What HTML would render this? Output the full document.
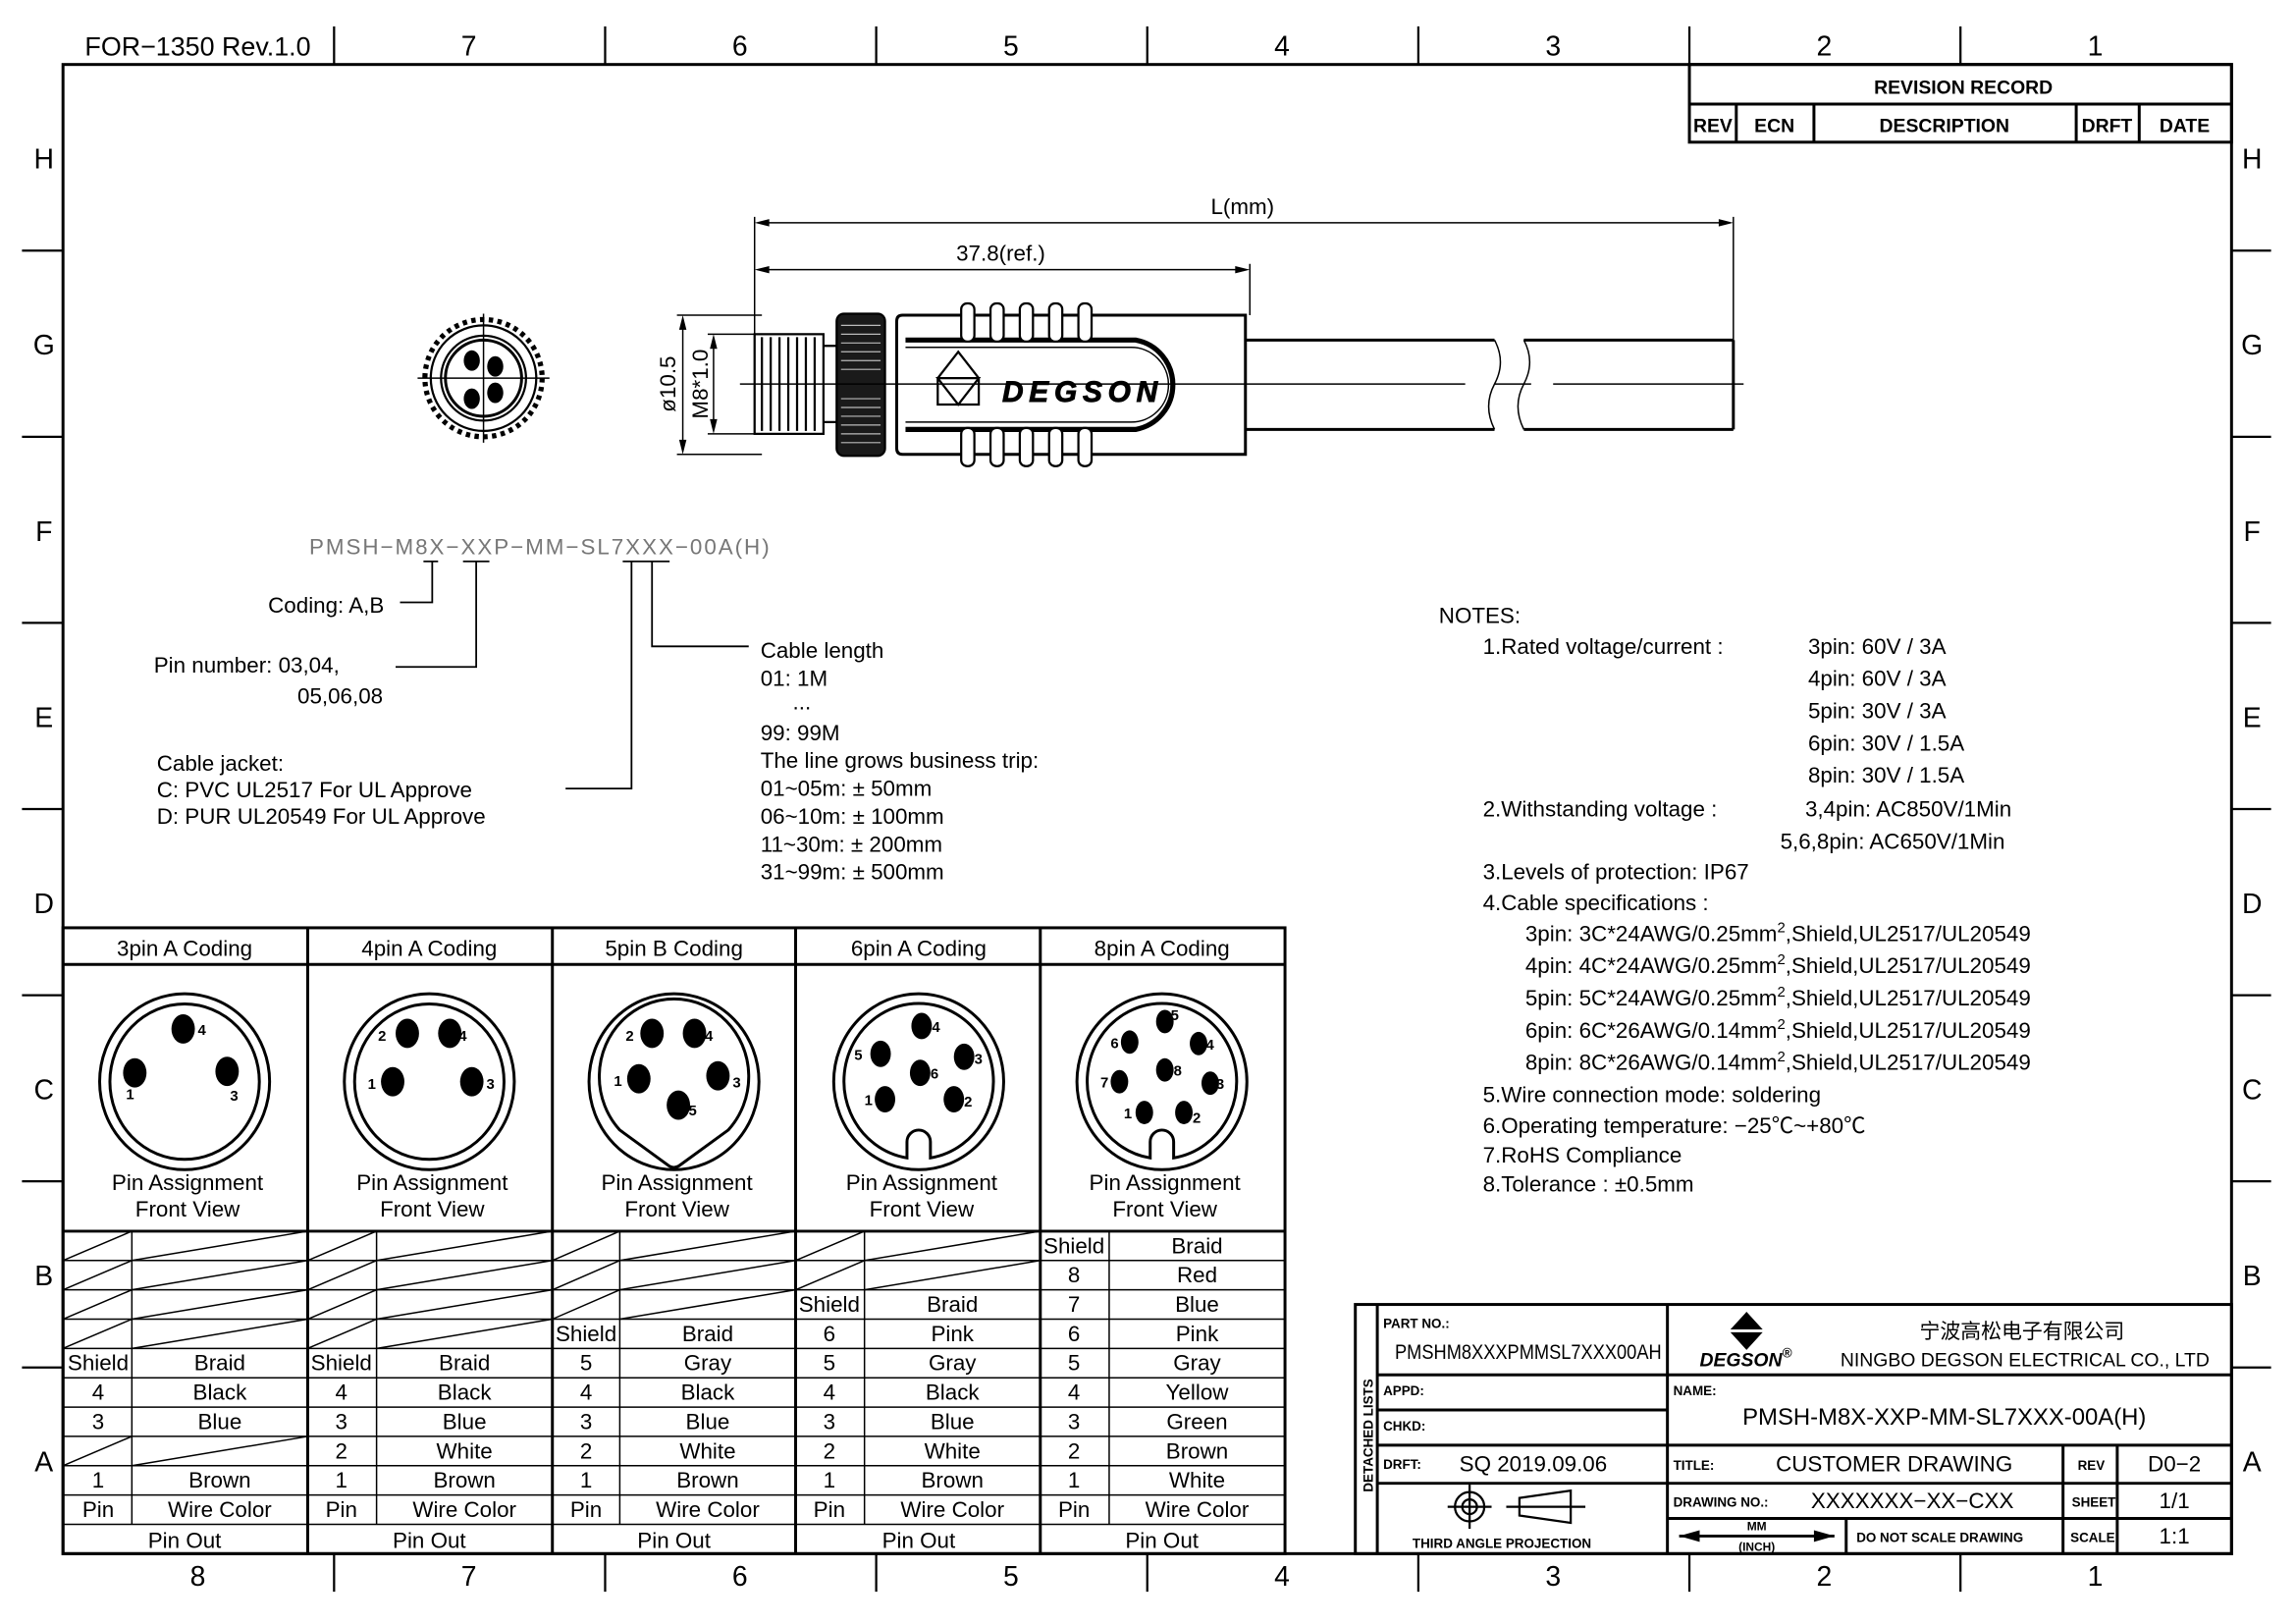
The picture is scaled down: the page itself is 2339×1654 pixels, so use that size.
<!DOCTYPE html>
<html><head><meta charset="utf-8"><style>
html,body{margin:0;padding:0;background:#fff}
svg{display:block}
text{font-family:"Liberation Sans","Noto Sans CJK SC",sans-serif;fill:#000}
.b{font-weight:bold}
</style></head><body>
<svg width="2339" height="1654" viewBox="0 0 1567 1108" preserveAspectRatio="none" xmlns="http://www.w3.org/2000/svg">
<rect width="1567" height="1108" fill="#fff"/>
<g stroke="#000" fill="none">
<rect x="43" y="44" width="1480" height="1016" stroke-width="2"/>
<g stroke-width="1.5">
<path d="M228 18V44M413 18V44M598 18V44M783 18V44M968 18V44M1153 18V44M1338 18V44"/>
<path d="M228 1060V1086M413 1060V1086M598 1060V1086M783 1060V1086M968 1060V1086M1153 1060V1086M1338 1060V1086"/>
<path d="M15 171H43M15 298H43M15 425H43M15 552H43M15 679H43M15 806H43M15 933H43"/>
<path d="M1523 171H1550M1523 298H1550M1523 425H1550M1523 552H1550M1523 679H1550M1523 806H1550M1523 933H1550"/>
</g>
<g stroke-width="2">
<rect x="1153" y="44" width="370" height="53"/>
<path d="M1153 71H1523M1185 71V97M1238 71V97M1417 71V97M1460 71V97"/>
</g>
<g stroke-width="1">
<path d="M515 148V255M1183 148V235M853 180V215"/>
<path d="M518 152H1180M518 184H850"/>
<path d="M462 215H520M462 310H520M483 228H515M483 296H515"/>
<path d="M466 218V307M487 231V293"/>
</g>
<g fill="#000" stroke="none">
<path d="M515 152l10-2.5v5zM1183 152l-10-2.5v5zM515 184l10-2.5v5zM853 184l-10-2.5v5z"/>
<path d="M466 215l-2.5 10h5zM466 310l-2.5-10h5zM487 228l-2.5 10h5zM487 296l-2.5-10h5z"/>
</g>
<g stroke-width="1.5">
<rect x="515" y="228" width="47" height="68"/>
<path d="M520 230V294M526 230V294M532 230V294M538 230V294M544 230V294M550 230V294M556 230V294"/>
<path d="M562 236H572M562 288H572"/>
</g>
<rect x="571" y="214" width="33" height="97" rx="5" fill="#1a1a1a" stroke-width="1.5"/>
<g stroke="#bbb" stroke-width="0.8">
<path d="M574 222H601M574 228H601M574 234H601M574 240H601M574 246H601M574 252H601M574 272H601M574 278H601M574 284H601M574 290H601M574 296H601M574 302H601"/>
</g>
<path d="M616 215H850V310H616Q612 310 612 306V219Q612 215 616 215Z" stroke-width="2"/>
<path d="M618 232H775A31 31 0 0 1 775 293H618" stroke-width="3.5"/>
<path d="M618 237H772A25 25 0 0 1 772 288H618" stroke-width="1"/>
<g stroke-width="1.5" fill="#fff">
<rect x="656" y="207" width="9" height="26" rx="4"/><rect x="676" y="207" width="9" height="26" rx="4"/><rect x="696" y="207" width="9" height="26" rx="4"/><rect x="716" y="207" width="9" height="26" rx="4"/><rect x="736" y="207" width="9" height="26" rx="4"/>
<rect x="656" y="292" width="9" height="26" rx="4"/><rect x="676" y="292" width="9" height="26" rx="4"/><rect x="696" y="292" width="9" height="26" rx="4"/><rect x="716" y="292" width="9" height="26" rx="4"/><rect x="736" y="292" width="9" height="26" rx="4"/>
</g>
<path d="M640 258L654 240L668 258M640 258H668L654 276Z M640 258V276H668V258" stroke-width="1.5"/>
<g stroke-width="2">
<path d="M850 232H1020M850 293H1020M1040 232H1183M1040 293H1183M1183 232V293"/>
</g>
<path d="M1020 232Q1028 247 1020 262Q1012 277 1020 293M1040 232Q1048 247 1040 262Q1032 277 1040 293" stroke-width="1"/>
<path d="M505 262H850M850 262H1000M1020 262H1045M1060 262H1190" stroke-width="1"/>
<circle cx="330" cy="258" r="40" stroke-width="3.5" stroke-dasharray="3 3"/>
<circle cx="330" cy="258" r="36" stroke-width="1.5"/>
<circle cx="330" cy="258" r="29" stroke-width="1.5"/>
<circle cx="330" cy="258" r="26" stroke-width="2"/>
<path d="M285 258H375M330 214V302" stroke-width="1"/>
<g stroke-width="1.2">
<path d="M289 383H299M316 383H334M425 383H457"/>
<path d="M295 383V411H273M325 383V455H270M431 383V538H386M445 383V441H511"/>
</g>
<g stroke-width="2">
<rect x="43" y="633" width="834" height="427"/>
<path d="M43 658H877M43 840H877M210 633V1060M377 633V1060M543 633V1060M710 633V1060"/>
</g>
<g stroke-width="1">
<path d="M43 860H877M43 880H877M43 900H877M43 920H877M43 940H877M43 960H877M43 980H877M43 1000H877M43 1020H877M43 1040H877"/>
<path d="M90 840V1040M257 840V1040M423 840V1040M590 840V1040M757 840V1040"/>
<path d="M43 860L90 840M90 860L210 840M43 880L90 860M90 880L210 860M43 900L90 880M90 900L210 880M43 920L90 900M90 920L210 900M43 1000L90 980M90 1000L210 980"/>
<path d="M210 860L257 840M257 860L377 840M210 880L257 860M257 880L377 860M210 900L257 880M257 900L377 880M210 920L257 900M257 920L377 900"/>
<path d="M377 860L423 840M423 860L543 840M377 880L423 860M423 880L543 860M377 900L423 880M423 900L543 880"/>
<path d="M543 860L590 840M590 860L710 840M543 880L590 860M590 880L710 860"/>
</g>
<g stroke-width="2">
<ellipse cx="126" cy="738" rx="58" ry="60"/><ellipse cx="126" cy="738" rx="51" ry="53"/>
<ellipse cx="293" cy="738" rx="58" ry="60"/><ellipse cx="293" cy="738" rx="51" ry="53"/>
<ellipse cx="460" cy="738" rx="58" ry="60"/>
<path d="M423 771A51 53 0 1 1 497 771L464 795Q460 798 456 795Z"/>
<ellipse cx="627" cy="738" rx="58" ry="60"/>
<path d="M619 790A51 53 0 1 1 635 790V779A8 8 0 0 0 619 779Z"/>
<ellipse cx="793" cy="738" rx="58" ry="60"/>
<path d="M785 790A51 53 0 1 1 801 790V779A8 8 0 0 0 785 779Z"/>
</g>
<g stroke-width="2">
<rect x="925" y="890" width="598" height="170"/>
<path d="M940 890V1060M1138 890V1060M940 938H1138M940 962H1138M940 986H1523M940 1012H1523M1138 938H1523M1138 1036H1523M1408 986V1060M1445 986V1060M1260 1036V1060"/>
</g>
<g stroke-width="1.5">
<circle cx="1003" cy="1028" r="10"/><circle cx="1003" cy="1028" r="5"/>
<path d="M988 1028H1018M1003 1013V1043M1028 1028H1082M1037 1022L1072 1017V1039L1037 1034Z"/>
</g>
<path d="M1146 1048H1252" stroke-width="2"/>
</g>
<g fill="#000">
<path d="M1146 1048l14-4v8zM1252 1048l-14-4v8z"/>
<path d="M1192 895l-11 12h22z M1181 909h22l-11 12z"/>
<ellipse cx="322" cy="246" rx="5.5" ry="7"/><ellipse cx="338" cy="250" rx="5.5" ry="7"/>
<ellipse cx="322" cy="272" rx="5.5" ry="7"/><ellipse cx="338" cy="268" rx="5.5" ry="7"/>
<ellipse cx="125" cy="702" rx="8" ry="10"/><ellipse cx="92" cy="732" rx="8" ry="10"/><ellipse cx="155" cy="731" rx="8" ry="10"/>
<ellipse cx="278" cy="705" rx="8" ry="10"/><ellipse cx="307" cy="705" rx="8" ry="10"/><ellipse cx="268" cy="738" rx="8" ry="10"/><ellipse cx="322" cy="738" rx="8" ry="10"/>
<ellipse cx="445" cy="705" rx="8" ry="10"/><ellipse cx="474" cy="705" rx="8" ry="10"/><ellipse cx="436" cy="736" rx="8" ry="10"/><ellipse cx="490" cy="734" rx="8" ry="10"/><ellipse cx="463" cy="754" rx="8" ry="10"/>
<ellipse cx="629" cy="700" rx="7" ry="9"/><ellipse cx="601" cy="719" rx="7" ry="9"/><ellipse cx="658" cy="721" rx="7" ry="9"/><ellipse cx="628" cy="732" rx="7" ry="9"/><ellipse cx="604" cy="750" rx="7" ry="9"/><ellipse cx="651" cy="750" rx="7" ry="9"/>
<ellipse cx="795" cy="697" rx="6" ry="8"/><ellipse cx="771" cy="711" rx="6" ry="8"/><ellipse cx="818" cy="712" rx="6" ry="8"/><ellipse cx="795" cy="730" rx="6" ry="8"/><ellipse cx="764" cy="738" rx="6" ry="8"/><ellipse cx="826" cy="739" rx="6" ry="8"/><ellipse cx="781" cy="759" rx="6" ry="8"/><ellipse cx="808" cy="759" rx="6" ry="8"/>
</g>

<g font-size="19" text-anchor="middle">
<text x="135" y="38" font-size="18">FOR−1350 Rev.1.0</text>
<text x="320" y="38">7</text><text x="505" y="38">6</text><text x="690" y="38">5</text><text x="875" y="38">4</text><text x="1060" y="38">3</text><text x="1245" y="38">2</text><text x="1430" y="38">1</text>
<text x="135" y="1082">8</text><text x="320" y="1082">7</text><text x="505" y="1082">6</text><text x="690" y="1082">5</text><text x="875" y="1082">4</text><text x="1060" y="1082">3</text><text x="1245" y="1082">2</text><text x="1430" y="1082">1</text>
<text x="30" y="115">H</text><text x="30" y="242">G</text><text x="30" y="369">F</text><text x="30" y="496">E</text><text x="30" y="623">D</text><text x="30" y="750">C</text><text x="30" y="877">B</text><text x="30" y="1004">A</text>
<text x="1537" y="115">H</text><text x="1537" y="242">G</text><text x="1537" y="369">F</text><text x="1537" y="496">E</text><text x="1537" y="623">D</text><text x="1537" y="750">C</text><text x="1537" y="877">B</text><text x="1537" y="1004">A</text>
</g>
<g class="b" font-size="13" text-anchor="middle">
<text x="1340" y="64">REVISION RECORD</text>
<text x="1169" y="90">REV</text><text x="1211" y="90">ECN</text><text x="1327" y="90">DESCRIPTION</text><text x="1438" y="90">DRFT</text><text x="1491" y="90">DATE</text>
</g>
<g font-size="15" text-anchor="middle">
<text x="848" y="146">L(mm)</text>
<text x="683" y="178">37.8(ref.)</text>
<text transform="translate(461 262) rotate(-90)">ø10.5</text>
<text transform="translate(483 262) rotate(-90)">M8*1.0</text>
</g>
<text x="684" y="274" font-size="20" class="b" font-style="italic" textLength="106" stroke="#000" stroke-width="0.6" fill="#fff">DEGSON</text>
<g font-size="15">
<text x="211" y="378" style="fill:#777" textLength="314">PMSH−M8X−XXP−MM−SL7XXX−00A(H)</text>
<text x="183" y="418">Coding: A,B</text>
<text x="105" y="459">Pin  number: 03,04,</text>
<text x="203" y="480">05,06,08</text>
<text x="107" y="526">Cable  jacket:</text>
<text x="107" y="544">C: PVC  UL2517  For  UL  Approve</text>
<text x="107" y="562">D: PUR  UL20549  For  UL  Approve</text>
<text x="519" y="449">Cable  length</text>
<text x="519" y="468">01: 1M</text>
<text x="541" y="484">...</text>
<text x="519" y="505">99: 99M</text>
<text x="519" y="524">The  line  grows  business  trip:</text>
<text x="519" y="543">01~05m: ±  50mm</text>
<text x="519" y="562">06~10m: ±  100mm</text>
<text x="519" y="581">11~30m: ±  200mm</text>
<text x="519" y="600">31~99m: ±  500mm</text>
</g>
<g font-size="15">
<text x="982" y="425">NOTES:</text>
<text x="1012" y="446">1.Rated  voltage/current  :</text>
<text x="1234" y="446">3pin: 60V  /  3A</text>
<text x="1234" y="468">4pin: 60V  /  3A</text>
<text x="1234" y="490">5pin: 30V  /  3A</text>
<text x="1234" y="512">6pin: 30V  /  1.5A</text>
<text x="1234" y="534">8pin: 30V  /  1.5A</text>
<text x="1012" y="557">2.Withstanding  voltage  :</text>
<text x="1232" y="557">3,4pin: AC850V/1Min</text>
<text x="1215" y="579">5,6,8pin: AC650V/1Min</text>
<text x="1012" y="600">3.Levels  of  protection: IP67</text>
<text x="1012" y="621">4.Cable  specifications  :</text>
<text x="1041" y="642">3pin: 3C*24AWG/0.25mm<tspan font-size="10" dy="-6">2</tspan><tspan dy="6">,Shield,UL2517/UL20549</tspan></text>
<text x="1041" y="664">4pin: 4C*24AWG/0.25mm<tspan font-size="10" dy="-6">2</tspan><tspan dy="6">,Shield,UL2517/UL20549</tspan></text>
<text x="1041" y="686">5pin: 5C*24AWG/0.25mm<tspan font-size="10" dy="-6">2</tspan><tspan dy="6">,Shield,UL2517/UL20549</tspan></text>
<text x="1041" y="708">6pin: 6C*26AWG/0.14mm<tspan font-size="10" dy="-6">2</tspan><tspan dy="6">,Shield,UL2517/UL20549</tspan></text>
<text x="1041" y="730">8pin: 8C*26AWG/0.14mm<tspan font-size="10" dy="-6">2</tspan><tspan dy="6">,Shield,UL2517/UL20549</tspan></text>
<text x="1012" y="752">5.Wire  connection  mode: soldering</text>
<text x="1012" y="773">6.Operating  temperature: −25℃~+80℃</text>
<text x="1012" y="793">7.RoHS  Compliance</text>
<text x="1012" y="813">8.Tolerance  : ±0.5mm</text>
</g>
<g font-size="15" text-anchor="middle">
<text x="126" y="652">3pin  A  Coding</text><text x="293" y="652">4pin  A  Coding</text><text x="460" y="652">5pin  B  Coding</text><text x="627" y="652">6pin  A  Coding</text><text x="793" y="652">8pin  A  Coding</text>
<text x="128" y="812">Pin  Assignment</text><text x="128" y="830">Front  View</text>
<text x="295" y="812">Pin  Assignment</text><text x="295" y="830">Front  View</text>
<text x="462" y="812">Pin  Assignment</text><text x="462" y="830">Front  View</text>
<text x="629" y="812">Pin  Assignment</text><text x="629" y="830">Front  View</text>
<text x="795" y="812">Pin  Assignment</text><text x="795" y="830">Front  View</text>
</g>
<g font-size="10" class="b">
<text x="135" y="706">4</text><text x="86" y="750">1</text><text x="157" y="751">3</text>
<text x="258" y="710">2</text><text x="313" y="710">4</text><text x="251" y="743">1</text><text x="332" y="743">3</text>
<text x="427" y="710">2</text><text x="481" y="710">4</text><text x="419" y="741">1</text><text x="500" y="742">3</text><text x="470" y="761">5</text>
<text x="636" y="704">4</text><text x="583" y="723">5</text><text x="665" y="726">3</text><text x="635" y="736">6</text><text x="590" y="754">1</text><text x="658" y="755">2</text>
<text x="799" y="696">5</text><text x="758" y="715">6</text><text x="823" y="716">4</text><text x="801" y="734">8</text><text x="751" y="742">7</text><text x="830" y="743">3</text><text x="767" y="763">1</text><text x="814" y="766">2</text>
</g>
<g font-size="15" text-anchor="middle">
<text x="67" y="935">Shield</text><text x="150" y="935">Braid</text>
<text x="67" y="955">4</text><text x="150" y="955">Black</text>
<text x="67" y="975">3</text><text x="150" y="975">Blue</text>
<text x="67" y="1015">1</text><text x="150" y="1015">Brown</text>
<text x="67" y="1035">Pin</text><text x="150" y="1035">Wire  Color</text>
<text x="126" y="1056">Pin  Out</text>
<text x="233" y="935">Shield</text><text x="317" y="935">Braid</text>
<text x="233" y="955">4</text><text x="317" y="955">Black</text>
<text x="233" y="975">3</text><text x="317" y="975">Blue</text>
<text x="233" y="995">2</text><text x="317" y="995">White</text>
<text x="233" y="1015">1</text><text x="317" y="1015">Brown</text>
<text x="233" y="1035">Pin</text><text x="317" y="1035">Wire  Color</text>
<text x="293" y="1056">Pin  Out</text>
<text x="400" y="915">Shield</text><text x="483" y="915">Braid</text>
<text x="400" y="935">5</text><text x="483" y="935">Gray</text>
<text x="400" y="955">4</text><text x="483" y="955">Black</text>
<text x="400" y="975">3</text><text x="483" y="975">Blue</text>
<text x="400" y="995">2</text><text x="483" y="995">White</text>
<text x="400" y="1015">1</text><text x="483" y="1015">Brown</text>
<text x="400" y="1035">Pin</text><text x="483" y="1035">Wire  Color</text>
<text x="460" y="1056">Pin  Out</text>
<text x="566" y="895">Shield</text><text x="650" y="895">Braid</text>
<text x="566" y="915">6</text><text x="650" y="915">Pink</text>
<text x="566" y="935">5</text><text x="650" y="935">Gray</text>
<text x="566" y="955">4</text><text x="650" y="955">Black</text>
<text x="566" y="975">3</text><text x="650" y="975">Blue</text>
<text x="566" y="995">2</text><text x="650" y="995">White</text>
<text x="566" y="1015">1</text><text x="650" y="1015">Brown</text>
<text x="566" y="1035">Pin</text><text x="650" y="1035">Wire  Color</text>
<text x="627" y="1056">Pin  Out</text>
<text x="733" y="855">Shield</text><text x="817" y="855">Braid</text>
<text x="733" y="875">8</text><text x="817" y="875">Red</text>
<text x="733" y="895">7</text><text x="817" y="895">Blue</text>
<text x="733" y="915">6</text><text x="817" y="915">Pink</text>
<text x="733" y="935">5</text><text x="817" y="935">Gray</text>
<text x="733" y="955">4</text><text x="817" y="955">Yellow</text>
<text x="733" y="975">3</text><text x="817" y="975">Green</text>
<text x="733" y="995">2</text><text x="817" y="995">Brown</text>
<text x="733" y="1015">1</text><text x="817" y="1015">White</text>
<text x="733" y="1035">Pin</text><text x="817" y="1035">Wire  Color</text>
<text x="793" y="1056">Pin  Out</text>
</g>
<text class="b" font-size="9" transform="translate(937 1018) rotate(-90)">DETACHED  LISTS</text>
<g class="b" font-size="9">
<text x="944" y="906">PART NO.:</text>
<text x="944" y="952">APPD:</text>
<text x="944" y="976">CHKD:</text>
<text x="944" y="1002">DRFT:</text>
<text x="1142" y="952">NAME:</text>
<text x="1142" y="1003">TITLE:</text>
<text x="1142" y="1028">DRAWING NO.:</text>
<text x="1418" y="1003">REV</text>
<text x="1414" y="1028">SHEET</text>
<text x="1413" y="1052">SCALE</text>
<text x="1267" y="1052">DO NOT SCALE DRAWING</text>
<text x="964" y="1056">THIRD ANGLE PROJECTION</text>
<text x="1199" y="1044" text-anchor="middle" font-size="8">MM</text>
<text x="1199" y="1058" text-anchor="middle" font-size="8">(INCH)</text>
</g>
<g font-size="14">
<text x="952" y="927" textLength="182" lengthAdjust="spacingAndGlyphs">PMSHM8XXXPMMSL7XXX00AH</text>
<text x="996" y="1004" font-size="15">SQ  2019.09.06</text>
<text x="1212" y="1004" font-size="15">CUSTOMER  DRAWING</text>
<text x="1236" y="1029" font-size="15">XXXXXXX−XX−CXX</text>
<text x="1484" y="1004" font-size="15" text-anchor="middle">D0−2</text>
<text x="1484" y="1029" font-size="15" text-anchor="middle">1/1</text>
<text x="1484" y="1053" font-size="15" text-anchor="middle">1:1</text>
<text x="1380" y="913" text-anchor="middle">宁波高松电子有限公司</text>
<text x="1382" y="932" text-anchor="middle" font-size="13">NINGBO DEGSON ELECTRICAL CO., LTD</text>
<text x="1327" y="972" text-anchor="middle" font-size="16">PMSH-M8X-XXP-MM-SL7XXX-00A(H)</text>
</g>
<text x="1160" y="932" font-size="13" class="b" font-style="italic">DEGSON<tspan font-size="9" dy="-6">®</tspan></text>
</svg>
</body></html>
